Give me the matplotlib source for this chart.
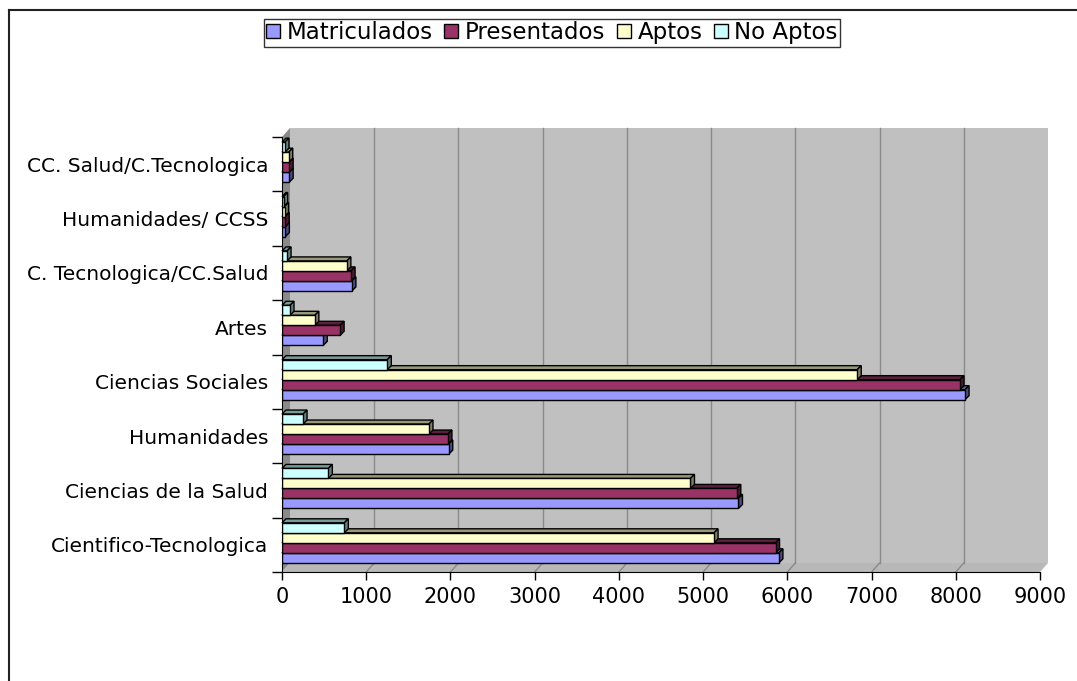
import matplotlib.pyplot as plt
import numpy as np
from matplotlib.patches import Polygon, Patch
from matplotlib.lines import Line2D
from matplotlib.transforms import IdentityTransform
from matplotlib.colors import to_rgb

# Datos (de abajo hacia arriba)
categorias = ["Cientifico-Tecnologica", "Ciencias de la Salud", "Humanidades",
              "Ciencias Sociales", "Artes", "C. Tecnologica/CC.Salud",
              "Humanidades/ CCSS", "CC. Salud/C.Tecnologica"]
matriculados = [5900, 5420, 1980, 8110, 490, 830, 40, 85]
presentados = [5860, 5400, 1970, 8050, 690, 820, 38, 85]
aptos = [5130, 4850, 1745, 6830, 390, 770, 30, 80]
no_aptos = [740, 550, 250, 1250, 95, 60, 20, 35]

series = ["Matriculados", "Presentados", "Aptos", "No Aptos"]
colores = ["#9999FF", "#993366", "#FFFFCC", "#CCFFFF"]
valores = [matriculados, presentados, aptos, no_aptos]

W, H = 1077, 681
fig = plt.figure(figsize=(W / 100, H / 100), dpi=100)
fig.patch.set_facecolor("white")
ax = fig.add_axes([282 / W, 109 / H, 758 / W, 435 / H])
ax.set_xlim(0, 9000)
ax.set_ylim(-0.5, len(categorias) - 0.5)
ax.patch.set_visible(False)

ident = IdentityTransform()
dx, dy = 8, 9      # profundidad de la pared
bd = 4             # profundidad de las barras


def shade(c, f):
    r, g, b = to_rgb(c)
    return (r * f, g * f, b * f)


# paredes
(x0, yb), (x1, yt) = ax.transData.transform([(0, -0.5), (9000, len(categorias) - 0.5)])
ax.add_patch(Polygon([(x0, yb), (x0 + dx, yb + dy), (x0 + dx, yt + dy), (x0, yt)],
                     closed=True, transform=ident, facecolor="#8a8a8a",
                     edgecolor="none", clip_on=False, zorder=0))
ax.add_patch(Polygon([(x0, yb), (x1, yb), (x1 + dx, yb + dy), (x0 + dx, yb + dy)],
                     closed=True, transform=ident, facecolor="#b8b8b8",
                     edgecolor="none", clip_on=False, zorder=0))
ax.add_patch(Polygon([(x0 + dx, yb + dy), (x1 + dx, yb + dy), (x1 + dx, yt + dy),
                      (x0 + dx, yt + dy)],
                     closed=True, transform=ident, facecolor="#c0c0c0",
                     edgecolor="none", clip_on=False, zorder=0))
for v in range(1000, 9000, 1000):
    xp = ax.transData.transform((v, -0.5))[0]
    ax.add_line(Line2D([xp + dx, xp + dx], [yb + dy, yt + dy], transform=ident,
                       color="#8a8a8a", lw=1, clip_on=False, zorder=0.5))
    ax.add_line(Line2D([xp, xp + dx], [yb, yb + dy], transform=ident,
                       color="#8a8a8a", lw=1, clip_on=False, zorder=0.5))

# barras 3D
h = 0.184
shift = 0.037
y = np.arange(len(categorias))
z = 2
for i, (vals, col) in enumerate(zip(valores, colores)):
    ylo = y + shift - 2 * h + i * h
    ax.barh(ylo, vals, height=h, align="edge", color=col, edgecolor="black",
            linewidth=1, zorder=z + 1)
    for yy, v in zip(ylo, vals):
        (ax0, ay0), (ax1, ay1) = ax.transData.transform([(0, yy), (v, yy + h)])
        ax.add_patch(Polygon([(ax0, ay1), (ax1, ay1), (ax1 + bd, ay1 + bd), (ax0 + bd, ay1 + bd)],
                             closed=True, transform=ident, facecolor=shade(col, 0.6),
                             edgecolor="black", linewidth=1, zorder=z, clip_on=False))
        ax.add_patch(Polygon([(ax1, ay0), (ax1 + bd, ay0 + bd), (ax1 + bd, ay1 + bd), (ax1, ay1)],
                             closed=True, transform=ident, facecolor=shade(col, 0.5),
                             edgecolor="black", linewidth=1, zorder=z, clip_on=False))
    z += 2

# ejes
for s in ["top", "right"]:
    ax.spines[s].set_visible(False)
for s in ["left", "bottom"]:
    ax.spines[s].set_color("black")
    ax.spines[s].set_zorder(20)

ax.set_xticks(np.arange(0, 9001, 1000))
ax.tick_params(axis="x", length=6, width=1, labelsize=15, pad=5)
ax.set_yticks(y)
ax.set_yticklabels(categorias)
ax.set_yticks(np.arange(-0.5, len(categorias), 1), minor=True)
ax.tick_params(axis="y", which="major", length=0, labelsize=14.5, pad=10)
ax.tick_params(axis="y", which="minor", length=7, width=1)

# leyenda
handles = [Patch(facecolor=c, edgecolor="black", label=s) for s, c in zip(series, colores)]
leg = fig.legend(handles=handles, loc="upper center", ncol=4,
                 bbox_to_anchor=(552 / W, 1 - 19 / H), fontsize=16.5,
                 frameon=True, fancybox=False, edgecolor="black",
                 handlelength=0.6, handleheight=0.6, handletextpad=0.3,
                 columnspacing=0.5, borderpad=0.1, borderaxespad=0)
leg.get_frame().set_linewidth(1)

# marco del gráfico
fig.add_artist(Line2D([9 / W, 1], [1 - 10 / H, 1 - 10 / H], color="#222222", lw=1.5))
fig.add_artist(Line2D([9 / W, 9 / W], [0, 1 - 10 / H], color="#222222", lw=1.5))

fig.savefig("out.png", dpi=100)
